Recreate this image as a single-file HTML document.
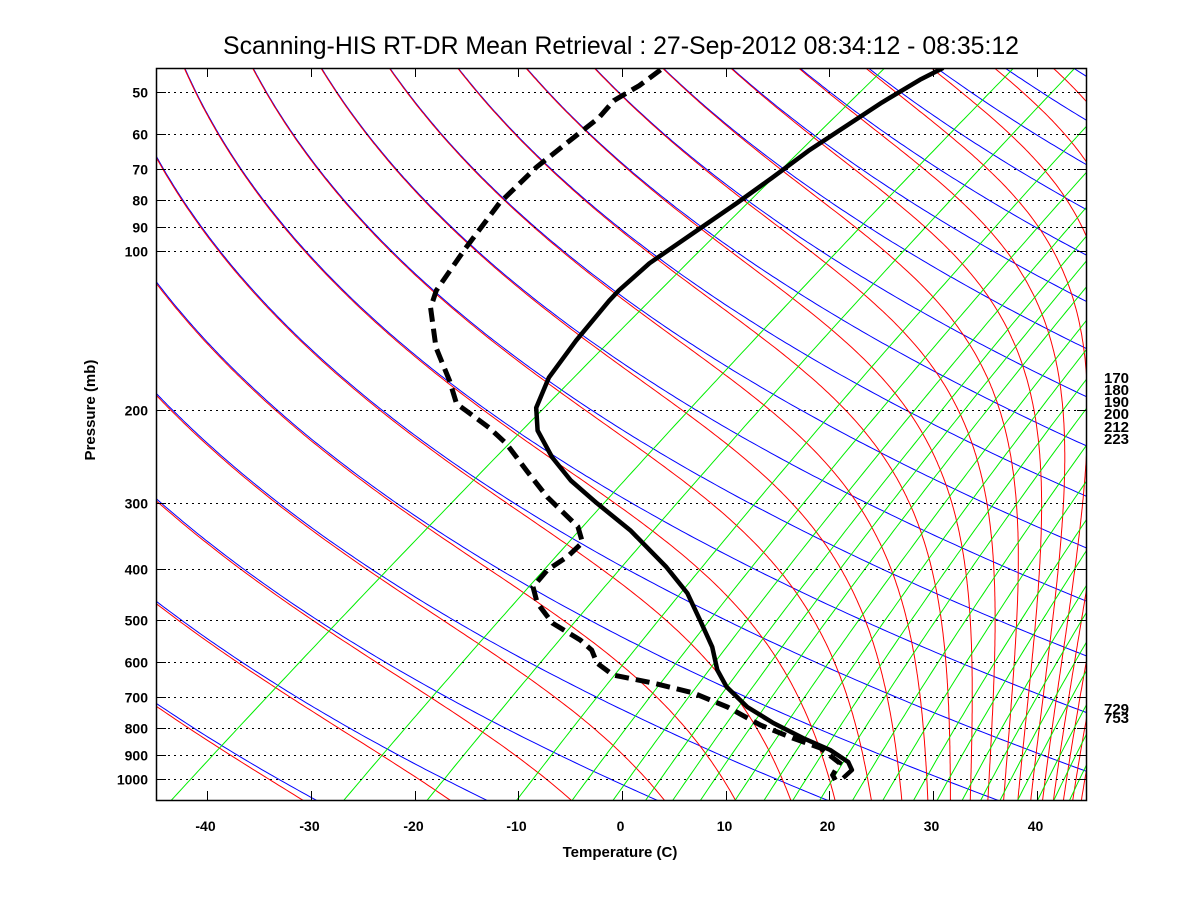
<!DOCTYPE html>
<html>
<head>
<meta charset="utf-8">
<style>
  html,body{margin:0;padding:0;background:#fff;}
  svg{display:block;}
  text{font-family:"Liberation Sans",Arial,sans-serif;}
</style>
</head>
<body>
<svg id="chart" width="1200" height="900" viewBox="0 0 1200 900" xmlns="http://www.w3.org/2000/svg">
  <rect x="0" y="0" width="1200" height="900" fill="#fff"/>
  <text x="621" y="54" text-anchor="middle" font-size="25" textLength="796" lengthAdjust="spacingAndGlyphs">Scanning-HIS RT-DR Mean Retrieval : 27-Sep-2012 08:34:12 - 08:35:12</text>
  <defs><clipPath id="plotclip"><rect x="156" y="68" width="931" height="733"/></clipPath></defs>
  <g id="bg" clip-path="url(#plotclip)"></g>
  <g id="grid"></g>
  <g id="prof" clip-path="url(#plotclip)"></g>
  <g id="axes"></g>
  <text x="620" y="857" text-anchor="middle" font-size="15" font-weight="bold">Temperature (C)</text>
  <text x="0" y="0" transform="translate(95,410) rotate(-90)" text-anchor="middle" font-size="15" font-weight="bold">Pressure (mb)</text>
  <g font-size="15" font-weight="bold">
    <text x="1104" y="383">170</text>
    <text x="1104" y="395">180</text>
    <text x="1104" y="407">190</text>
    <text x="1104" y="419">200</text>
    <text x="1104" y="432">212</text>
    <text x="1104" y="444">223</text>
    <text x="1104" y="714">729</text>
    <text x="1104" y="723">753</text>
  </g>
</svg>
<script>
// ---- data ----
const tempP = [45.0,47.4,52.3,57.9,64.6,72.7,81.1,92.5,105.5,118.8,124.2,147.8,173.8,198.1,218.8,246,272,300.5,337.9,396.9,444.6,499.7,562.1,621.6,669.3,730.4,783.3,836.2,881.2,928.6,961.5,995.6];
const tempT = [-61.6,-62.3,-63.0,-63.4,-63.8,-63.8,-63.9,-64.2,-64.5,-63.9,-63.5,-61.5,-59.3,-56.6,-53.5,-48.6,-43.8,-38.3,-31.6,-23.3,-17.9,-13.2,-8.5,-5.0,-1.9,2.7,7.3,12.1,16.3,19.6,21.0,21.2];
const dewP = [45.4,48.6,51.9,56.0,60.0,69.4,81.1,98.7,118.8,128.1,152.4,176,194.7,200.6,215.9,231.7,260.3,292.5,332.8,356.5,379,402,432.6,464,506.6,545.6,570,603.2,635.5,657.8,687.4,730.4,790.2,836.2,873.6,932.6,982.7,1004.4];
const dewT = [-88.6,-88.6,-89.1,-88.3,-88.2,-87.9,-86.8,-84.2,-81.5,-79.8,-74.1,-68.5,-64.8,-63.0,-58.6,-54.8,-49.4,-43.9,-37.1,-34.6,-34.2,-34.4,-33.6,-31.1,-27.0,-22.1,-19.7,-17.5,-14.4,-9.5,-4.3,0.8,6.3,11.1,15.1,18.9,19.8,20.7];
const thetaList = [224,240,256,272,288,304,320,336,352,368,384,400,416,432,448,464,480,496,512,528,544,560,576,592,608,624,640,656,672,688,704,720];
const mixList = [0.1,0.5,1,2,3,4,5,6,7.2,9,10.8,12.9,15.2,18.5,22.1,26.4,30.2,34.8,38.6,43,47.4,52.9,57.8,63,69];
const pTicks = [50,60,70,80,90,100,200,300,400,500,600,700,800,900,1000];
const tTicks = [-40,-30,-20,-10,0,10,20,30,40];

// ---- axis functions ----
const L=156,R=1087,TOP=68,BOT=801;
function yOf(p){return 779-528*Math.log10(1000/p);}
function xOf(T,p){return 622+10.37*T+712.8*Math.log10(1000/p);}
const NS='http://www.w3.org/2000/svg';
function mk(tag,attrs,parent){const e=document.createElementNS(NS,tag);for(const k in attrs)e.setAttribute(k,attrs[k]);parent.appendChild(e);return e;}
function ptsStr(arr){return arr.map(a=>a[0].toFixed(1)+','+a[1].toFixed(1)).join(' ');}
function es(Tc){return 6.112*Math.exp(17.67*Tc/(Tc+243.5));}

const bg=document.getElementById('bg');
const grid=document.getElementById('grid');
const prof=document.getElementById('prof');
const axes=document.getElementById('axes');

// dry adiabats (blue)
thetaList.forEach(th=>{
  const pts=[];
  for(let lp=Math.log(20);lp<=Math.log(1110);lp+=0.01){
    const p=Math.exp(lp);
    const T=th*Math.pow(p/1000,0.286)-273.15;
    pts.push([xOf(T,p),yOf(p)]);
  }
  const el=mk('polyline',{points:ptsStr(pts),fill:'none',stroke:'#0000ff','stroke-width':1},bg);
  
  
});

// moist adiabats (red)
function dTdlnp(T,p){
  const Rd=287,cp=1005,Lv=2.5e6,eps=0.622;
  const e=es(T-273.15);
  const rs=e<p*0.9?eps*e/(p-e):eps*0.9/(0.1);
  return (Rd*T+Lv*rs)/(cp+Lv*Lv*rs*eps/(Rd*T*T));
}
thetaList.forEach(th=>{
  let p=20,T=th*Math.pow(p/1000,0.286);
  const pts=[[xOf(T-273.15,p),yOf(p)]];
  const h=0.01;
  let lp=Math.log(p);
  while(lp<Math.log(1110)){
    const k1=dTdlnp(T,Math.exp(lp));
    const k2=dTdlnp(T+k1*h,Math.exp(lp+h));
    T+=0.5*(k1+k2)*h; lp+=h;
    pts.push([xOf(T-273.15,Math.exp(lp)),yOf(Math.exp(lp))]);
  }
  const el=mk('polyline',{points:ptsStr(pts),fill:'none',stroke:'#ff0000','stroke-width':1},bg);
  
  
});

// mixing ratio lines (green)
mixList.forEach(r=>{
  const pts=[];
  for(let lp=Math.log(40);lp<=Math.log(1110);lp+=0.02){
    const p=Math.exp(lp);
    const e=(r/1000)*p/(0.622+r/1000);
    const a=Math.log(e/6.112);
    const T=243.5*a/(17.67-a);
    pts.push([xOf(T,p),yOf(p)]);
  }
  const el=mk('polyline',{points:ptsStr(pts),fill:'none',stroke:'#00ee00','stroke-width':1},bg);
  
  
});

// pressure grid + labels
pTicks.forEach(p=>{
  const y=Math.round(yOf(p))+0.5;
  const g=mk('line',{x1:L,x2:R,y1:y,y2:y,stroke:'#000','stroke-width':1,'stroke-dasharray':'2,4'},grid);
  
  
  const t1=mk('line',{x1:L,x2:L+10,y1:y,y2:y,stroke:'#000','stroke-width':1},grid);
  
  
  const t2=mk('line',{x1:R-10,x2:R,y1:y,y2:y,stroke:'#000','stroke-width':1},grid);
  
  
  const lb=mk('text',{x:148,y:y+5,'text-anchor':'end','font-size':14,'font-weight':'bold'},axes);
  lb.textContent=String(p);
  
  
});

// temperature ticks
tTicks.forEach(t=>{
  const x=Math.round(622+10.37*t)+0.5;
  const a=mk('line',{x1:x,x2:x,y1:BOT,y2:BOT-10,stroke:'#000','stroke-width':1},axes);
  
  
  const b=mk('line',{x1:x,x2:x,y1:TOP,y2:TOP+9,stroke:'#000','stroke-width':1},axes);
  
  
  const lb=mk('text',{x:x-2,y:831,'text-anchor':'middle','font-size':14,'font-weight':'bold'},axes);
  lb.textContent=String(t);
  
  
});

// frame
const fr=mk('rect',{x:L+0.5,y:TOP+0.5,width:R-L-1,height:BOT-TOP-1,fill:'none',stroke:'#000','stroke-width':1.5},axes);



// profiles
const tpts=tempP.map((p,i)=>[xOf(tempT[i],p),yOf(p)]);
const tl=mk('polyline',{points:ptsStr(tpts),fill:'none',stroke:'#000','stroke-width':4.5,'stroke-linejoin':'round'},prof);


const dpts=dewP.map((p,i)=>[xOf(dewT[i],p),yOf(p)]);
const dl=mk('polyline',{points:ptsStr(dpts),fill:'none',stroke:'#000','stroke-width':5,'stroke-dasharray':'14,7'},prof);


</script>
</body>
</html>
